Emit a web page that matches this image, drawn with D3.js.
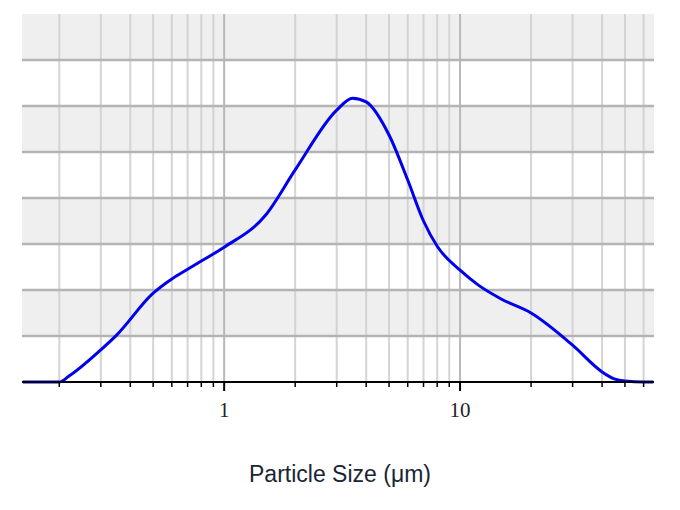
<!DOCTYPE html><html><head><meta charset="utf-8"><script src="https://cdn.jsdelivr.net/npm/d3@7"></script>
<style>body{margin:0;background:#fff}</style></head><body><svg id="c" width="680" height="510"></svg>
<script>
const sizes=[0.14,0.2,0.22,0.3,0.35,0.5,0.6,0.7,0.8,1,1.5,2,3,3.5,4,5,6,7,8,10,12,15,20,30,40,45,50,60,66];
const volume=[0,0,0.13,0.7,1.02,1.93,2.24,2.45,2.63,2.93,3.63,4.61,5.91,6.17,6.09,5.37,4.39,3.5,2.95,2.43,2.1,1.8,1.5,0.8,0.22,0.07,0.02,0,0];
const majorTicks=[1,10];
const minorTicks=[0.2,0.3,0.4,0.5,0.6,0.7,0.8,0.9,2,3,4,5,6,7,8,9,20,30,40,50,60];
const yBands=[0,1,2,3,4,5,6,7,8];
const xTitle="Particle Size (μm)";
const svg=d3.select("#c");
const L=22,R=654,T=14,B=382;
const x=d3.scaleLog().domain([0.139,66.4]).range([L,R]);
const y=d3.scaleLinear().domain([0,8]).range([B,T]);
const g=svg.append("g");
for(let i=0;i<8;i++){ if(i%2===1) g.append("rect").attr("x",L).attr("width",R-L).attr("y",y(i+1)).attr("height",y(i)-y(i+1)).attr("fill","#efefef"); }
g.selectAll(".mn").data(minorTicks).join("line").attr("x1",d=>x(d)).attr("x2",d=>x(d)).attr("y1",T).attr("y2",B).attr("stroke","#d4d4d4").attr("stroke-width",2);
g.selectAll(".mj").data(majorTicks).join("line").attr("x1",d=>x(d)).attr("x2",d=>x(d)).attr("y1",T).attr("y2",B).attr("stroke","#b8b8b8").attr("stroke-width",2);
g.selectAll(".h").data(yBands.slice(1,8)).join("line").attr("x1",L).attr("x2",R).attr("y1",d=>y(d)).attr("y2",d=>y(d)).attr("stroke","#b4b4b4").attr("stroke-width",2.5);
const line=d3.line().x((d,i)=>x(sizes[i])).y(d=>y(d)).curve(d3.curveMonotoneX);
svg.append("path").datum(volume).attr("d",line).attr("fill","none").attr("stroke","#0000ee").attr("stroke-width",3);
const ax=svg.append("g").attr("transform",`translate(0,${B})`);
ax.append("line").attr("x1",L).attr("x2",R).attr("stroke","#000").attr("stroke-width",2);
ax.selectAll(".t").data(minorTicks).join("line").attr("x1",d=>x(d)).attr("x2",d=>x(d)).attr("y2",5).attr("stroke","#000").attr("stroke-width",1.5);
ax.selectAll(".T").data(majorTicks).join("line").attr("x1",d=>x(d)).attr("x2",d=>x(d)).attr("y2",9).attr("stroke","#000").attr("stroke-width",2);
ax.selectAll("text").data(majorTicks).join("text").attr("x",d=>x(d)).attr("y",35).attr("text-anchor","middle").attr("font-family","Liberation Serif, serif").attr("font-size",21).attr("fill","#222").text(d=>d);
svg.append("text").attr("x",340).attr("y",482).attr("text-anchor","middle").attr("font-family","Liberation Sans, Arial, sans-serif").attr("font-size",23).attr("fill","#1a2533").text(xTitle);
</script></body></html>
